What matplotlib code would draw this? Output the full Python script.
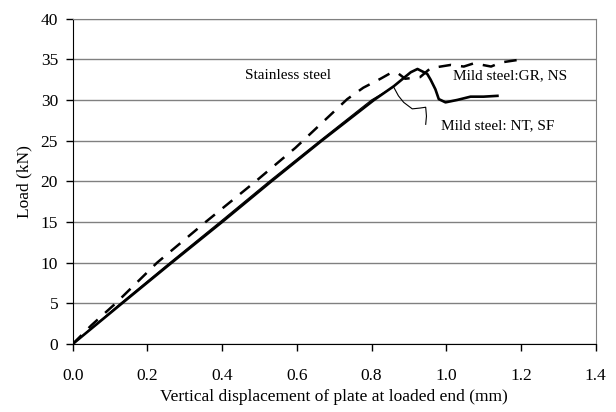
import matplotlib
matplotlib.use("Agg")
import matplotlib.pyplot as plt

plt.rcParams['font.family'] = ['Liberation Serif', 'DejaVu Serif']

# displacement (mm) / load (kN)
stainless_x = [0, 0.05, 0.115, 0.226, 0.356, 0.49, 0.596, 0.735, 0.778, 0.824, 0.855, 0.873,
               0.89, 0.93, 0.958, 1.012, 1.047, 1.074, 1.12, 1.146, 1.19]
stainless_y = [0, 2.3, 5, 10, 15, 20, 24.1, 30.1, 31.5, 32.6, 33.4, 33.2,
               32.6, 32.8, 33.9, 34.3, 34.1, 34.5, 34.1, 34.6, 34.9]

gr_ns_x = [0, 0.132, 0.265, 0.4, 0.532, 0.667, 0.807, 0.86, 0.905, 0.923, 0.949, 0.958,
           0.971, 0.98, 0.998, 1.03, 1.065, 1.1, 1.137]
gr_ns_y = [0, 5, 10, 15, 20, 25, 30, 31.7, 33.4, 33.8, 33.2, 32.5,
           31.3, 30.1, 29.7, 30.0, 30.4, 30.4, 30.5]

nt_sf_x = [0, 0.128, 0.26, 0.394, 0.526, 0.662, 0.80, 0.859, 0.872, 0.886, 0.909, 0.93, 0.945, 0.947, 0.945]
nt_sf_y = [0, 5, 10, 15, 20, 25, 30, 31.6, 30.5, 29.7, 28.9, 29.0, 29.1, 28.0, 27.0]

x_ticks = [0.0, 0.2, 0.4, 0.6, 0.8, 1.0, 1.2, 1.4]
y_ticks = [0, 5, 10, 15, 20, 25, 30, 35, 40]

fig = plt.figure(figsize=(6.16, 4.12), dpi=100)
ax = fig.add_axes([0.118, 0.165, 0.849, 0.79])

ax.plot(stainless_x, stainless_y, color='black', lw=1.8, linestyle=(0, (5, 4)))
ax.plot(gr_ns_x, gr_ns_y, color='black', lw=1.9)
ax.plot(nt_sf_x, nt_sf_y, color='black', lw=0.8)

ax.set_xlim(0, 1.4)
ax.set_ylim(0, 40)
ax.set_xticks(x_ticks)
ax.set_xticklabels([f"{t:.1f}" for t in x_ticks])
ax.set_yticks(y_ticks)
ax.yaxis.grid(True, color='#808080', lw=1)
ax.set_axisbelow(True)
ax.tick_params(direction='out', length=5, width=1, labelsize=12.5, color='black')
ax.tick_params(axis='x', pad=12)
ax.tick_params(axis='y', pad=5.5)

for s in ['top', 'right']:
    ax.spines[s].set_color('#808080')
for s in ['left', 'bottom']:
    ax.spines[s].set_color('black')

ax.set_xlabel('Vertical displacement of plate at loaded end (mm)', fontsize=12.5, labelpad=4)
ax.set_ylabel('Load (kN)', fontsize=12.5, labelpad=6)

ax.text(0.462, 33.0, 'Stainless steel', fontsize=11, va='center')
ax.text(1.017, 33.0, 'Mild steel:GR, NS', fontsize=11, va='center')
ax.text(0.987, 26.8, 'Mild steel: NT, SF', fontsize=11, va='center')

fig.savefig('out.png', dpi=100)
